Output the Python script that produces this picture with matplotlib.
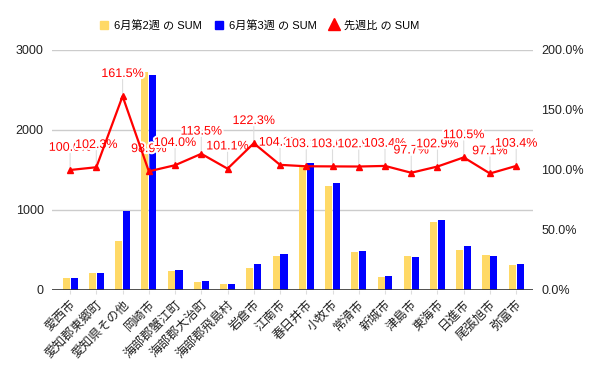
import matplotlib
matplotlib.use("Agg")
import matplotlib.pyplot as plt
import matplotlib.patheffects as pe
from matplotlib.patches import Patch
from matplotlib.lines import Line2D
import numpy as np

plt.rcParams['font.family'] = ['Liberation Sans', 'Noto Sans CJK JP', 'DejaVu Sans']

cities = ['愛西市', '愛知郡東郷町', '愛知県その他', '岡崎市', '海部郡蟹江町', '海部郡大治町',
          '海部郡飛島村', '岩倉市', '江南市', '春日井市', '小牧市', '常滑市', '新城市',
          '津島市', '東海市', '日進市', '尾張旭市', '弥富市']
week2 = [150, 208, 615, 2720, 240, 100, 75, 270, 430, 1535, 1300, 475, 165, 425, 850, 500, 437, 312]
week3 = [150, 213, 993, 2690, 250, 113, 76, 330, 448, 1583, 1340, 489, 170, 415, 875, 552, 425, 323]
ratio = [100.0, 102.3, 161.5, 98.9, 104.0, 113.5, 101.1, 122.3, 104.3, 103.1, 103.0, 102.9,
         103.4, 97.7, 102.9, 110.5, 97.1, 103.4]

yellow = '#ffd966'
blue = '#0000ff'
red = '#ff0000'

fig = plt.figure(figsize=(6, 3.71), dpi=100)
ax = fig.add_axes([52/600, 1-290/371, 481/600, 240/371])
x = np.arange(len(cities))
w = 0.27
ax.bar(x - 0.15, week2, w, color=yellow, zorder=2)
ax.bar(x + 0.15, week3, w, color=blue, zorder=2)
ax.set_xlim(-0.69, 17.64)
ax.set_ylim(0, 3000)
ax.set_yticks([0, 1000, 2000, 3000])
ax.grid(axis='y', color='#cccccc', lw=1, zorder=0)
ax.axhline(0, color='#333333', lw=1.2, zorder=3)
for s in ax.spines.values():
    s.set_visible(False)
ax.tick_params(axis='y', length=0, labelsize=9, colors='#222222', pad=6)
ax.set_xticks(x)
ax.set_xticklabels(cities, rotation=45, ha='right', rotation_mode='anchor', fontsize=9, color='#222222')
ax.tick_params(axis='x', length=3, color='#dddddd', pad=3)

ax2 = ax.twinx()
r = np.array(ratio) / 100
ax2.plot(x, r, color=red, lw=1.6, marker='^', ms=4, zorder=4)
ax2.set_ylim(0, 2)
ax2.set_yticks([0, 0.5, 1, 1.5, 2])
ax2.set_yticklabels(['0.0%', '50.0%', '100.0%', '150.0%', '200.0%'])
ax2.tick_params(axis='y', length=0, labelsize=9, colors='#222222', pad=6)
for s in ax2.spines.values():
    s.set_visible(False)
for xi, ri, lab in zip(x, r, ratio):
    ax2.annotate('', xy=(xi, ri), xytext=(0, 12), textcoords='offset points',
                 arrowprops=dict(arrowstyle='-', color='#dddddd', lw=0.8, shrinkA=0, shrinkB=0))
    ax2.annotate(f'{lab:.1f}%', xy=(xi, ri), xytext=(0, 16), textcoords='offset points',
                 ha='center', va='center', fontsize=9, color=red,
                 path_effects=[pe.withStroke(linewidth=3, foreground='white')])

handles = [Patch(color=yellow), Patch(color=blue),
           Line2D([], [], color=red, marker='^', ls='none', ms=8)]
labels = ['6月第2週 の SUM', '6月第3週 の SUM', '先週比 の SUM']
fig.legend(handles, labels, loc='center left', bbox_to_anchor=(100/600, 1-25/371), ncol=3,
           frameon=False, fontsize=8, handlelength=0.75, handleheight=0.75,
           columnspacing=1.2, handletextpad=0.5, borderpad=0, borderaxespad=0)

fig.savefig('out.png', dpi=100)
